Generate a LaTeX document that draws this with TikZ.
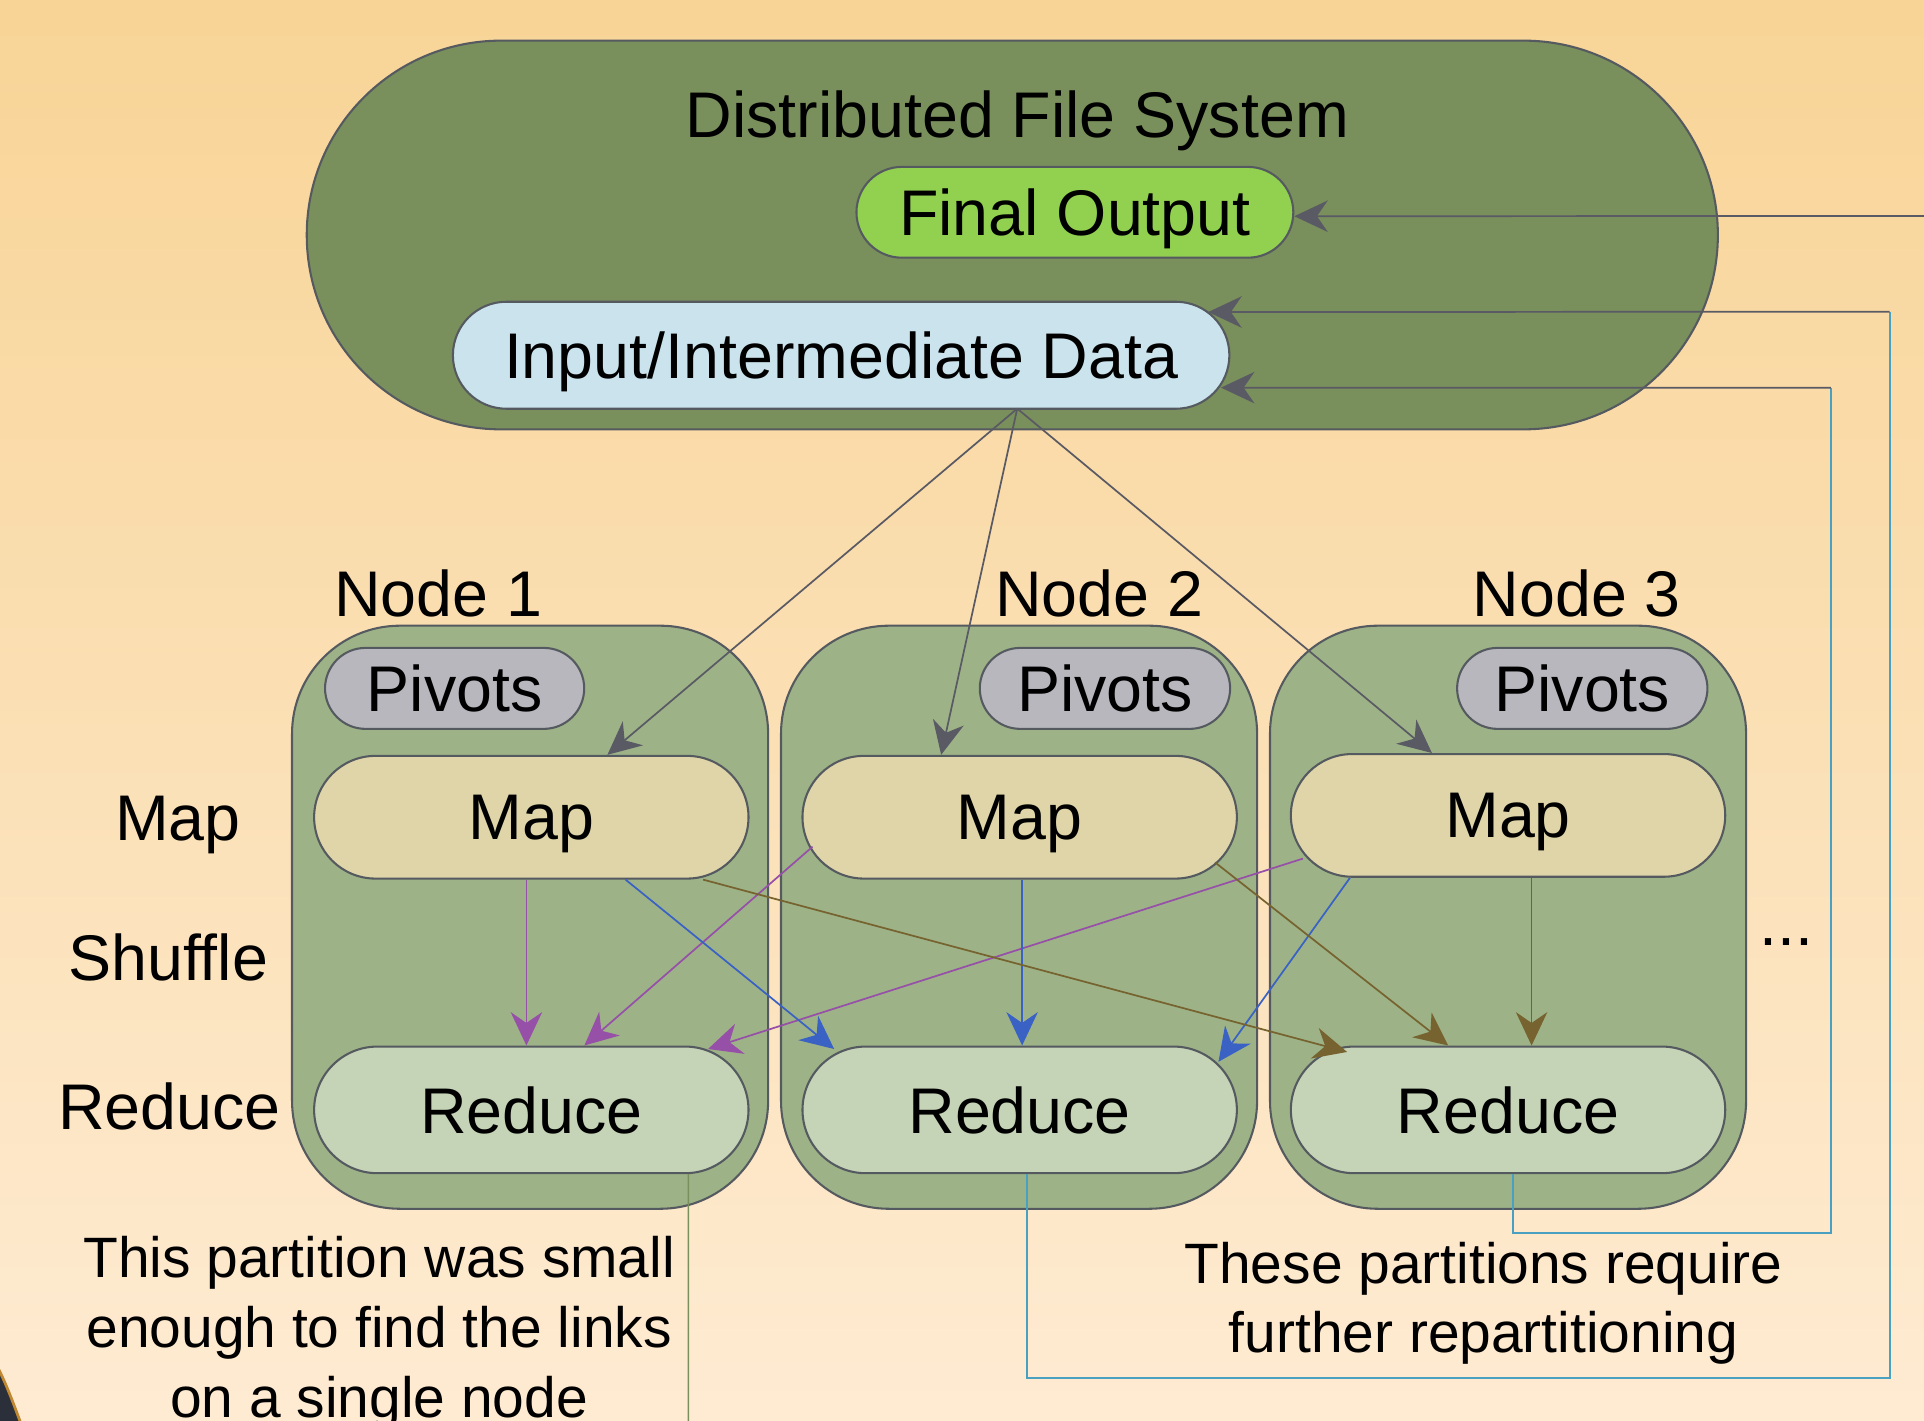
\documentclass[tikz,border=0pt]{standalone}
\usepackage{fontspec}
\setmainfont{Liberation Sans}
\usepackage{tikz}
\usetikzlibrary{positioning, arrows.meta, shapes.misc}
\definecolor{mrtop}{HTML}{F8D496}
\definecolor{mrbottom}{HTML}{FEEBD2}
\definecolor{mrolive}{HTML}{798F5C}
\definecolor{mrsage}{HTML}{9DB387}
\definecolor{mrlime}{HTML}{92D050}
\definecolor{mrice}{HTML}{CAE3EC}
\definecolor{mrgrey}{HTML}{B8B7BE}
\definecolor{mrkhaki}{HTML}{DFD5A8}
\definecolor{mrpale}{HTML}{C5D3B6}
\definecolor{mrline}{HTML}{555960}
\definecolor{mrarrow}{HTML}{5A5A64}
\definecolor{mrpurple}{HTML}{9650A8}
\definecolor{mrblue}{HTML}{3A62C4}
\definecolor{mrbrown}{HTML}{76632F}
\definecolor{mrteal}{HTML}{4AA0C0}
\definecolor{mrdark}{HTML}{2B2F3A}
\definecolor{mredge}{HTML}{C08830}

\begin{document}
\begin{tikzpicture}[x=0.125mm, y=-0.125mm, font=\fontsize{18.7}{22}\selectfont,
        pill/.style={rounded rectangle, draw=mrline, line width=0.6pt, inner sep=0pt, text depth=0pt},
        nodebox/.style={draw=mrline, line width=0.6pt, fill=mrsage, rounded corners=11mm, minimum width=48.5mm, minimum height=59.4mm},
        pivot/.style={pill, fill=mrgrey, minimum width=25.5mm, minimum height=8.25mm},
        mapbox/.style={pill, fill=mrkhaki, minimum width=44.25mm, minimum height=12.5mm},
        redbox/.style={pill, fill=mrpale, minimum width=44.25mm, minimum height=12.9mm},
        note/.style={align=center, font=\fontsize{16.5}{20.2}\selectfont},
        tip/.style={-{Stealth[length=3.4mm, width=3.2mm, inset=1.1mm]}, line width=0.5pt}]
        \useasboundingbox (0,0) rectangle (1568,1158);
        \clip (0,0) rectangle (1568,1158);
        \shade[top color=mrtop, bottom color=mrbottom] (0,0) rectangle (1568,1158);
        \fill[mrdark, draw=mredge, line width=0.8pt] (-2,1114) .. controls (6,1130) and (11,1144) .. (17,1160) -- (-2,1160) -- cycle;

        \node[pill, fill=mrolive, minimum width=143.75mm, minimum height=39.6mm] (dfs) at (825,191.5) {};
        \node[text depth=0pt] (dfslab) at (829,93) {Distributed File System};
        \node[pill, fill=mrlime, minimum width=44.5mm, minimum height=9.25mm] (fo) at (876,173) {Final Output};
        \node[pill, fill=mrice, minimum width=79.1mm, minimum height=10.9mm] (in) at (685.5,289.5) {Input/Intermediate Data};

        \node[nodebox] (n1) at (432,747.5) {};
        \node[nodebox] (n2) at (830.5,747.5) {};
        \node[nodebox] (n3) at (1229,747.5) {};
        \node (lab1) at (357,484) {Node 1};
        \node (lab2) at (896,484) {Node 2};
        \node (lab3) at (1285,484) {Node 3};

        \node[pivot, minimum width=26.4mm] (piv1) at (370.5,561) {Pivots};
        \node[pivot] (piv2) at (900.5,561) {Pivots};
        \node[pivot] (piv3) at (1289.5,561) {Pivots};
        \node[mapbox] (map1) at (433,666) {Map};
        \node[mapbox] (map2) at (831,666) {Map};
        \node[mapbox] (map3) at (1229,664.5) {Map};
        \node[redbox] (red1) at (433,904.5) {Reduce};
        \node[redbox] (red2) at (831,904.5) {Reduce};
        \node[redbox] (red3) at (1229,904.5) {Reduce};

        \node (mapl) at (145,672) {Map};
        \node (shufl) at (137,780) {Shuffle};
        \node (redl) at (138,902) {Reduce};
        \node (more) at (1456,768) {...};

        \node[note] (note1) at (309,1086) {This partition was small\\enough to find the links\\on a single node};
        \node[note] (note2) at (1209,1062) {These partitions require\\further repartitioning};

        \coordinate (src) at (829,333);
        \draw[tip, mrarrow] (src) -- ([xshift=7.75mm]map1.north);
        \draw[tip, mrarrow] (src) -- ([xshift=-8mm]map2.north);
        \draw[tip, mrarrow] (src) -- ([xshift=-7.75mm]map3.north);

        \draw[tip, mrpurple] ([xshift=-0.5mm]map1.south) -- ([xshift=-0.5mm]red1.north);
        \draw[tip, mrpurple] ([xshift=-21.1mm,yshift=-3mm]map2.center) -- ([xshift=5.4mm]red1.north);
        \draw[tip, mrpurple] ([xshift=-20.9mm,yshift=-4.4mm]map3.center) -- ([xshift=18mm,yshift=6.2mm]red1.center);
        \draw[tip, mrblue] ([xshift=9.6mm]map1.south) -- ([xshift=-18.9mm,yshift=6.2mm]red2.center);
        \draw[tip, mrblue] ([xshift=0.25mm]map2.south) -- ([xshift=0.25mm]red2.north);
        \draw[tip, mrblue] ([xshift=-16.1mm]map3.south) -- ([xshift=20.25mm,yshift=4.9mm]red2.center);
        \draw[tip, mrbrown] ([xshift=17.5mm]map1.south) -- ([xshift=-16.4mm,yshift=5.9mm]red3.center);
        \draw[tip, mrbrown] ([xshift=19.9mm,yshift=-4.6mm]map2.center) -- ([xshift=-6.1mm]red3.north);
        \draw[tip, mrbrown] ([xshift=2.4mm]map3.south) -- ([xshift=2.4mm]red3.north);

        \coordinate (fb0) at (1575,176);
        \coordinate (fb1) at (561,1165);
        \coordinate (fb2) at (1540,254);
        \coordinate (fb3) at (1492,316);
        \draw[tip, mrarrow] (fb0) -- ([yshift=-0.4mm]fo.east);
        \draw[mrolive, line width=0.5pt] ([xshift=16mm]red1.south) -- (fb1);
        \draw[mrteal, line width=0.5pt] ([xshift=0.75mm]red2.south) -- ++(0,166) -| (fb2);
        \draw[tip, mrarrow] (fb2) -- ([xshift=37.4mm,yshift=4.4mm]in.center);
        \draw[mrteal, line width=0.5pt] ([xshift=0.5mm]red3.south) -- ++(0,48) -| (fb3);
        \draw[tip, mrarrow] (fb3) -- ([xshift=38.7mm,yshift=-3.3mm]in.center);
      \end{tikzpicture}
\end{document}
